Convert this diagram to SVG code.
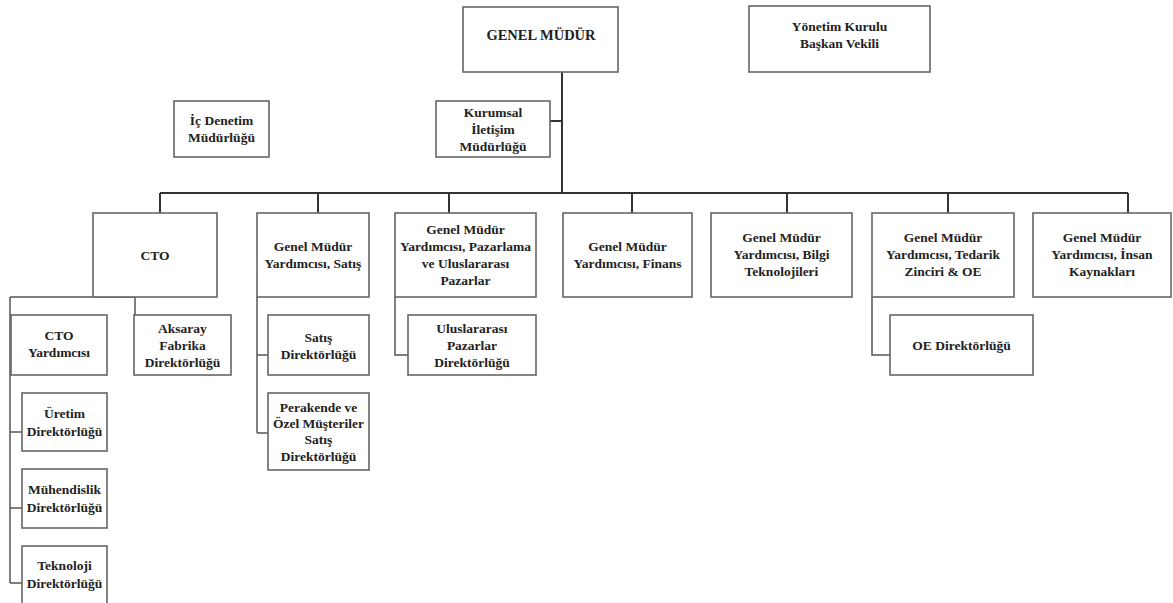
<svg xmlns="http://www.w3.org/2000/svg" width="1173" height="603" viewBox="0 0 1173 603">
<style>
.b{fill:#fff;stroke:#666;stroke-width:1.6}
.t{font-family:'Liberation Serif','Times New Roman',Times,'DejaVu Serif',serif;font-weight:700;font-size:13.5px;fill:#222;text-anchor:middle;dominant-baseline:central}
.c{fill:none;stroke:#333;stroke-width:2}
.s{fill:none;stroke:#555;stroke-width:1.5}
</style>
<rect width="1173" height="603" fill="#fff"/>
<g id="connectors">
<path class="c" d="M562,72V193M550,121H562M160,193H1128"/>
<path class="c" d="M160,193V213M318,193V213M449,193V213M632,193V213M787,193V213M948,193V213M1128,193V213"/>
<path class="s" d="M10,297H135V315M10,297V583M10,432H22M10,508H22M10,583H22"/>
<path class="s" d="M257,297V433M257,355H268M257,433H268"/>
<path class="s" d="M395,297V355H408"/>
<path class="s" d="M872,297V355H890"/>
</g>
<g id="genel-mudur"><rect class="b" x="463" y="7" width="155" height="65"/><text class="t" x="541" y="35" style="font-size:14.5px">GENEL MÜDÜR</text></g>
<g id="yonetim"><rect class="b" x="749" y="6" width="181" height="66"/><text class="t" x="839.5" y="26">Yönetim Kurulu</text><text class="t" x="839.5" y="43">Başkan Vekili</text></g>
<g id="ic-denetim"><rect class="b" x="174" y="101" width="95" height="56"/><text class="t" x="221.5" y="120">İç Denetim</text><text class="t" x="221.5" y="137">Müdürlüğü</text></g>
<g id="kurumsal"><rect class="b" x="436" y="101" width="114" height="56"/><text class="t" x="493" y="112">Kurumsal</text><text class="t" x="493" y="129">İletişim</text><text class="t" x="493" y="146">Müdürlüğü</text></g>
<g id="cto"><rect class="b" x="93" y="213" width="124" height="84"/><text class="t" x="155" y="255">CTO</text></g>
<g id="gmy-satis"><rect class="b" x="257" y="213" width="112" height="84"/><text class="t" x="313" y="246">Genel Müdür</text><text class="t" x="313" y="263">Yardımcısı, Satış</text></g>
<g id="gmy-pazarlama"><rect class="b" x="395" y="213" width="141" height="84"/><text class="t" x="465.5" y="229">Genel Müdür</text><text class="t" x="465.5" y="246">Yardımcısı, Pazarlama</text><text class="t" x="465.5" y="263">ve Uluslararası</text><text class="t" x="465.5" y="280">Pazarlar</text></g>
<g id="gmy-finans"><rect class="b" x="563" y="213" width="129" height="84"/><text class="t" x="627.5" y="246">Genel Müdür</text><text class="t" x="627.5" y="263">Yardımcısı, Finans</text></g>
<g id="gmy-bilgi"><rect class="b" x="711" y="213" width="141" height="84"/><text class="t" x="781.5" y="237">Genel Müdür</text><text class="t" x="781.5" y="254">Yardımcısı, Bilgi</text><text class="t" x="781.5" y="271">Teknolojileri</text></g>
<g id="gmy-tedarik"><rect class="b" x="872" y="213" width="142" height="84"/><text class="t" x="943" y="237">Genel Müdür</text><text class="t" x="943" y="254">Yardımcısı, Tedarik</text><text class="t" x="943" y="271">Zinciri &amp; OE</text></g>
<g id="gmy-insan"><rect class="b" x="1033" y="213" width="138" height="84"/><text class="t" x="1102" y="237">Genel Müdür</text><text class="t" x="1102" y="254">Yardımcısı, İnsan</text><text class="t" x="1102" y="271">Kaynakları</text></g>
<g id="cto-yardimcisi"><rect class="b" x="11" y="315" width="96" height="60"/><text class="t" x="59" y="335">CTO</text><text class="t" x="59" y="352">Yardımcısı</text></g>
<g id="aksaray"><rect class="b" x="134" y="315" width="97" height="60"/><text class="t" x="182.5" y="328">Aksaray</text><text class="t" x="182.5" y="345">Fabrika</text><text class="t" x="182.5" y="362">Direktörlüğü</text></g>
<g id="satis-dir"><rect class="b" x="268" y="315" width="101" height="60"/><text class="t" x="318.5" y="337">Satış</text><text class="t" x="318.5" y="354">Direktörlüğü</text></g>
<g id="perakende"><rect class="b" x="268" y="393" width="101" height="77"/><text class="t" x="318.5" y="407">Perakende ve</text><text class="t" x="318.5" y="423">Özel Müşteriler</text><text class="t" x="318.5" y="439">Satış</text><text class="t" x="318.5" y="456">Direktörlüğü</text></g>
<g id="uluslararasi"><rect class="b" x="408" y="315" width="128" height="60"/><text class="t" x="472" y="328">Uluslararası</text><text class="t" x="472" y="345">Pazarlar</text><text class="t" x="472" y="362">Direktörlüğü</text></g>
<g id="oe-dir"><rect class="b" x="890" y="315" width="143" height="60"/><text class="t" x="961.5" y="345">OE Direktörlüğü</text></g>
<g id="uretim"><rect class="b" x="22" y="393" width="85" height="58"/><text class="t" x="64.5" y="413">Üretim</text><text class="t" x="64.5" y="431">Direktörlüğü</text></g>
<g id="muhendislik"><rect class="b" x="22" y="469" width="85" height="59"/><text class="t" x="64.5" y="489">Mühendislik</text><text class="t" x="64.5" y="507">Direktörlüğü</text></g>
<g id="teknoloji"><rect class="b" x="22" y="546" width="85" height="58"/><text class="t" x="64.5" y="565">Teknoloji</text><text class="t" x="64.5" y="583">Direktörlüğü</text></g>
</svg>
